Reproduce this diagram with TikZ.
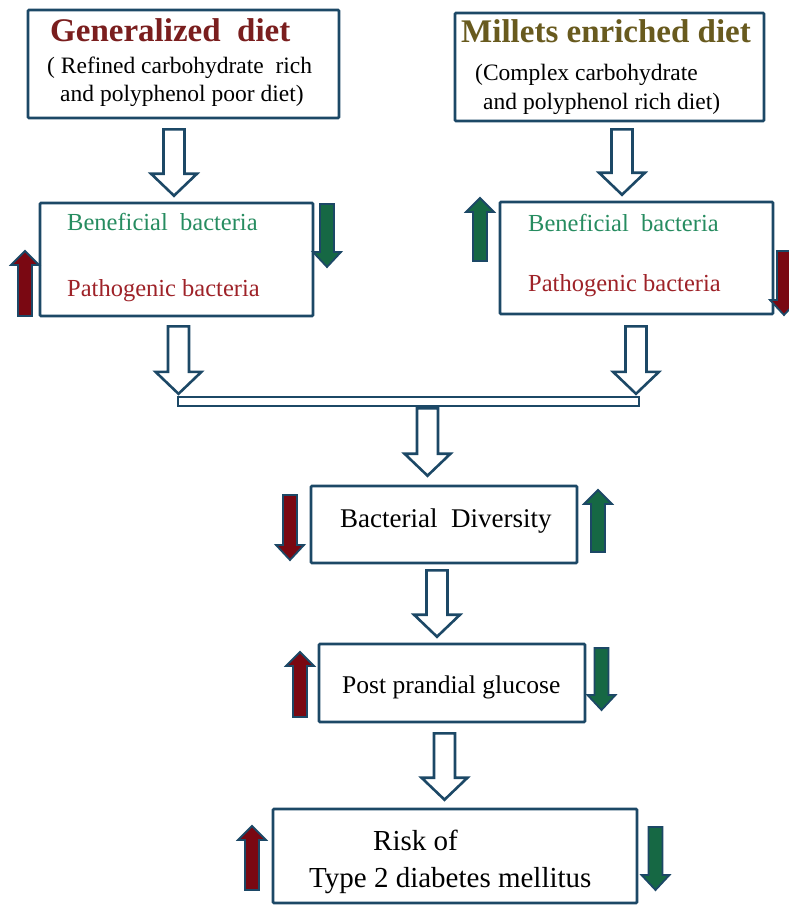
\documentclass[tikz,border=0pt]{standalone}
\usepackage{fontspec}
\setmainfont{Liberation Serif}
\usepackage{tikz}
\usetikzlibrary{calc}
\usetikzlibrary{positioning}
\definecolor{lineblue}{RGB}{28,72,102}
\definecolor{upgreen}{RGB}{22,104,68}
\definecolor{upred}{RGB}{122,8,18}
\definecolor{txtgreen}{RGB}{38,140,96}
\definecolor{txtred}{RGB}{158,34,40}
\definecolor{ttlred}{RGB}{122,30,30}
\definecolor{ttlolive}{RGB}{104,90,30}
\tikzstyle{Abox}=[draw=lineblue,line width=2.6pt,rounded corners=1pt,fill=white,inner sep=0]
\tikzstyle{Abar}=[draw=lineblue,line width=2.4pt,fill=white,inner sep=0,minimum height=9pt]
\tikzstyle{Alab}=[inner sep=0,anchor=base west]
\tikzstyle{hol}=[draw=lineblue,line width=2.6pt,fill=white,line join=miter]
\tikzstyle{mark up}=[draw=lineblue,line width=1.8pt,line join=miter]
% hollow block arrow: x, upper node, lower node, gap top, gap bottom
\newcommand{\hollow}[5]{\path[hol] let \p1=(#2.south), \p2=(#3.north) in
  ({#1pt-10.5pt},{\y1-#4pt}) -- ({#1pt+10.5pt},{\y1-#4pt}) -- ({#1pt+10.5pt},{\y2+#5pt+22pt})
  -- ({#1pt+23pt},{\y2+#5pt+22pt}) -- ({#1pt},{\y2+#5pt}) -- ({#1pt-23pt},{\y2+#5pt+22pt})
  -- ({#1pt-10.5pt},{\y2+#5pt+22pt}) -- cycle;}
% small up / down arrows: colour, x, top, bottom
\newcommand{\uparr}[4]{\path[mark up,fill=#1] (#2-7,#4) -- (#2+7,#4) -- (#2+7,#3+14) -- (#2+14,#3+14)
  -- (#2,#3) -- (#2-14,#3+14) -- (#2-7,#3+14) -- cycle;}
\newcommand{\dnarr}[4]{\path[mark up,fill=#1] (#2-7,#3) -- (#2+7,#3) -- (#2+7,#4-15) -- (#2+14,#4-15)
  -- (#2,#4) -- (#2-14,#4-15) -- (#2-7,#4-15) -- cycle;}
\begin{document}
\begin{tikzpicture}[x=1pt,y=-1pt]
  \useasboundingbox (0,0) rectangle (788,905);

  \node[Abox,minimum width=311pt,minimum height=108pt] (gen) at (183.5,64) {};
  \node[Abox,minimum width=309pt,minimum height=108pt] (mil) at (609.5,67) {};
  \node[Abox,minimum width=273pt,minimum height=113pt] (bacl) at (176.5,259.5) {};
  \node[Abox,minimum width=273pt,minimum height=112pt] (bacr) at (636.5,258) {};
  \node[Abar,minimum width=461pt] (bar) at (408.5,401.5) {};
  \node[Abox,minimum width=266pt,minimum height=77pt] (div) at (444,524.5) {};
  \node[Abox,minimum width=266pt,minimum height=78pt] (ppg) at (452,683) {};
  \node[Abox,minimum width=364pt,minimum height=94pt] (t2d) at (455,856) {};

  % texts
  \node[Alab,text=ttlred,font=\fontsize{33}{36}\selectfont\bfseries] (gent) at (50,41) {Generalized\ \ diet};
  \node[Alab,font=\fontsize{23.5}{26}\selectfont] (gen1) at (47,73) {( Refined carbohydrate\ \ rich};
  \node[Alab,font=\fontsize{23.5}{26}\selectfont] (gen2) at (60,101) {and polyphenol poor diet)};
  \node[Alab,text=ttlolive,font=\fontsize{33}{36}\selectfont\bfseries] (milt) at (461,42) {Millets enriched diet};
  \node[Alab,font=\fontsize{23.5}{26}\selectfont] (mil1) at (475,80) {(Complex carbohydrate};
  \node[Alab,font=\fontsize{23.5}{26}\selectfont] (mil2) at (483,109) {and polyphenol rich diet)};
  \node[Alab,text=txtgreen,font=\fontsize{24.5}{27}\selectfont] (benl) at (67,230) {Beneficial\ \ bacteria};
  \node[Alab,text=txtred,font=\fontsize{24.5}{27}\selectfont] (patl) at (67,296) {Pathogenic bacteria};
  \node[Alab,text=txtgreen,font=\fontsize{24.5}{27}\selectfont] (benr) at (528,231) {Beneficial\ \ bacteria};
  \node[Alab,text=txtred,font=\fontsize{24.5}{27}\selectfont] (patr) at (528,291) {Pathogenic bacteria};
  \node[Alab,font=\fontsize{27}{30}\selectfont] (divt) at (340,527) {Bacterial\ \ Diversity};
  \node[Alab,font=\fontsize{25.5}{28}\selectfont] (ppgt) at (342,693) {Post prandial\ glucose};
  \node[Alab,font=\fontsize{29}{32}\selectfont] (t2d1) at (373,850) {Risk of};
  \node[Alab,font=\fontsize{29}{32}\selectfont] (t2d2) at (309,887) {Type 2 diabetes mellitus};

  % block arrows
  \hollow{174}{gen}{bacl}{10}{6}
  \hollow{622}{mil}{bacr}{7}{6}
  \hollow{178.5}{bacl}{bar}{9}{2}
  \hollow{636}{bacr}{bar}{11}{2}
  \hollow{427.5}{bar}{div}{1}{9}
  \hollow{437}{div}{ppg}{6}{6}
  \hollow{444.5}{ppg}{t2d}{10}{8}

  % up and down marks
  \uparr{upred}{25}{251}{316}
  \dnarr{upgreen}{327}{204}{267}
  \uparr{upgreen}{480}{198}{261}
  \dnarr{upred}{784}{251}{315}
  \dnarr{upred}{290}{495}{560}
  \uparr{upgreen}{598}{490}{552}
  \uparr{upred}{300}{652}{717}
  \dnarr{upgreen}{601.5}{648}{710}
  \uparr{upred}{252}{826}{890}
  \dnarr{upgreen}{655.5}{827}{890}
\end{tikzpicture}
\end{document}
